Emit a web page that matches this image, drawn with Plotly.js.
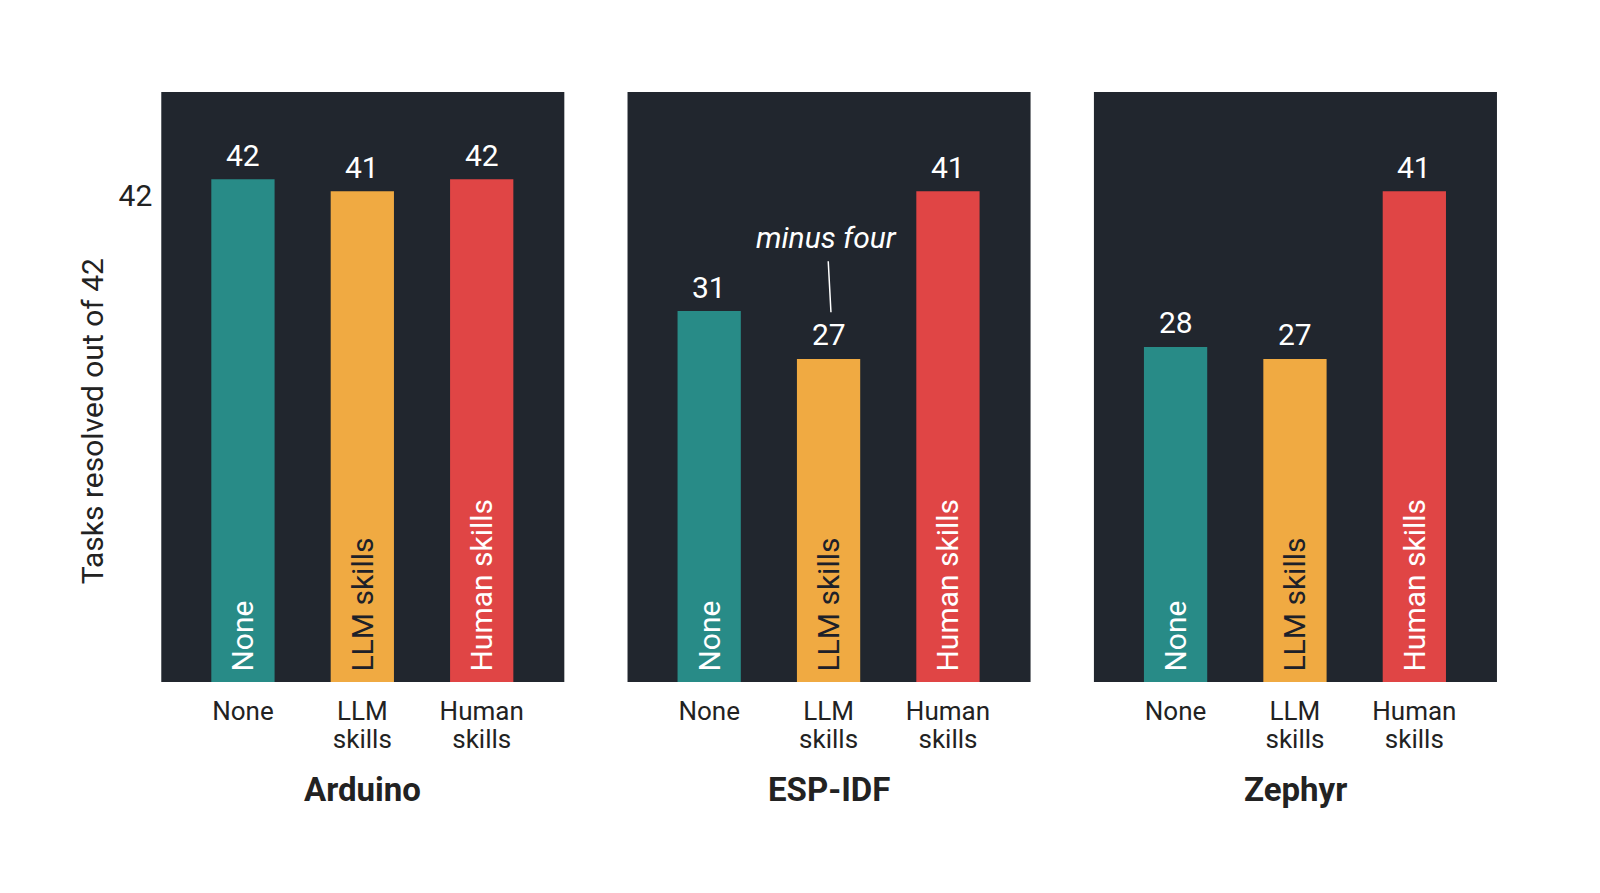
<!DOCTYPE html>
<html>
<head>
<meta charset="utf-8">
<script src="https://cdn.plot.ly/plotly-3.0.1.min.js"></script>
<style>
  html, body { margin: 0; padding: 0; background: #fff; }
  #chart { width: 1600px; height: 893px; }
</style>
</head>
<body>
<div id="chart"></div>
<script>
// data
const frameworks = ['Arduino', 'ESP-IDF', 'Zephyr'];
const conditions = ['None', 'LLM skills', 'Human skills'];
const tickLine1 = ['None', 'LLM', 'Human'];
const tickLine2 = ['', 'skills', 'skills'];
const arduinoVals = [42, 41, 42];
const espIdfVals = [31, 27, 41];
const zephyrVals = [28, 27, 41];
const totalTasks = 42;

const barColors = ['#288b87', '#f0aa42', '#e04545'];
const insideColors = ['#ffffff', '#1d2129', '#ffffff'];
const panelBg = '#21262e';
const font = 'Roboto, "Open Sans", sans-serif';
const pad = '\u00a0'; // a little room under the rotated names

const allVals = [arduinoVals, espIdfVals, zephyrVals];
const domains = [[0.1008, 0.3527], [0.3922, 0.6441], [0.6837, 0.9356]];
const xs = [0, 1, 2];

let data = [];
let layout = {
    width: 1600,
    height: 893,
    margin: { t: 92, b: 211, l: 0, r: 0 },
    paper_bgcolor: '#fff',
    plot_bgcolor: panelBg,
    showlegend: false,
    font: { family: font, color: '#222' },
    annotations: []
};

allVals.forEach((vals, i) => {
    const n = i === 0 ? '' : String(i + 1);
    const xa = 'x' + n, ya = 'y' + n;
    const n2 = String(i + 4); // overlay axis carrying the second line of tick text

    // bars with rotated condition names inside
    data.push({
        type: 'bar',
        x: xs,
        y: vals,
        xaxis: xa, yaxis: ya,
        width: 0.53,
        marker: { color: barColors },
        text: conditions.map(c => pad + c),
        textposition: 'inside',
        insidetextanchor: 'start',
        textangle: -90,
        insidetextfont: { family: font, size: 30, color: insideColors },
        hoverinfo: 'skip'
    });

    data.push({
        type: 'scatter', mode: 'markers',
        x: [], y: [],
        xaxis: 'x' + n2, yaxis: ya,
        hoverinfo: 'skip'
    });

    // value labels above the bars
    vals.forEach((v, k) => {
        layout.annotations.push({
            xref: xa, yref: ya,
            x: xs[k], y: v,
            yshift: 24,
            yanchor: 'middle',
            text: String(v),
            showarrow: false,
            font: { family: font, size: 30, color: '#ffffff' }
        });
    });

    const xBase = {
        range: [-0.684, 2.692],
        tickvals: xs,
        tickfont: { family: font, size: 26, color: '#222' },
        showgrid: false,
        zeroline: false,
        showline: false,
        ticks: '',
        fixedrange: true
    };
    layout['xaxis' + n] = Object.assign({}, xBase, {
        domain: domains[i],
        anchor: ya,
        ticktext: tickLine1,
        ticklabelstandoff: 11
    });
    layout['xaxis' + n2] = Object.assign({}, xBase, {
        overlaying: xa,
        anchor: ya,
        side: 'bottom',
        ticktext: tickLine2,
        ticklabelstandoff: 39
    });
    layout['yaxis' + n] = {
        domain: [0, 1],
        anchor: xa,
        range: [0, 49.3],
        tickvals: i === 0 ? [totalTasks] : [],
        ticktext: i === 0 ? [String(totalTasks)] : [],
        showticklabels: i === 0,
        ticklabelshift: 16,
        ticklabelstandoff: 8,
        tickfont: { family: font, size: 30, color: '#222' },
        showgrid: false,
        zeroline: false,
        showline: false,
        ticks: '',
        fixedrange: true
    };

    // framework name under each panel
    layout.annotations.push({
        xref: 'paper', yref: 'paper',
        x: (domains[i][0] + domains[i][1]) / 2,
        y: -0.182,
        xanchor: 'center',
        yanchor: 'middle',
        text: '<b>' + frameworks[i] + '</b>',
        showarrow: false,
        font: { family: font, size: 33, color: '#222' }
    });
});

// y axis title, sitting a bit below the middle as in the original
layout.annotations.push({
    xref: 'paper', yref: 'paper',
    x: 0.0575, y: 0.442,
    xanchor: 'center',
    yanchor: 'middle',
    text: 'Tasks resolved out of ' + totalTasks,
    textangle: -90,
    showarrow: false,
    font: { family: font, size: 30, color: '#222' }
});

// "minus four" note in the ESP-IDF panel
layout.annotations.push({
    xref: 'x2', yref: 'y2',
    x: 1.02, y: 30.9,
    ax: -4, ay: -75,
    text: '<i>minus four</i>',
    showarrow: true,
    arrowhead: 0,
    arrowwidth: 1.5,
    arrowcolor: '#ffffff',
    standoff: 0,
    borderpad: 6,
    font: { family: font, size: 30, color: '#ffffff' }
});

Plotly.newPlot('chart', data, layout, { displayModeBar: false, staticPlot: true });
</script>
</body>
</html>
